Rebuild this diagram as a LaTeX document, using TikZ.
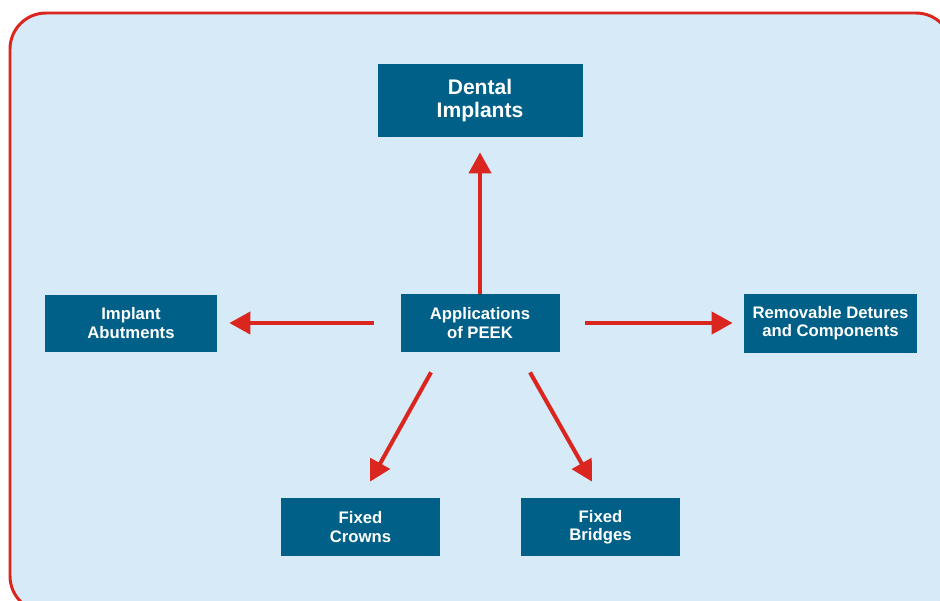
\documentclass[tikz,border=0pt]{standalone}
\usepackage{fontspec}
\setmainfont{Liberation Sans}
\usetikzlibrary{arrows.meta, positioning}
\definecolor{boxblue}{RGB}{0,96,136}
\definecolor{panelblue}{RGB}{214,234,248}
\definecolor{arrowred}{RGB}{218,38,30}
\tikzset{node distance=4cm, % Distance between node centres. Changed per node below.
  appbox/.style={ % Sets the properties for each dark box
    fill=boxblue,
    text=white,
    align=center,
    inner sep=2pt,
    minimum width=3.18cm,
    minimum height=1.16cm,
    font=\fontsize{9.5}{10.3}\selectfont\bfseries},
  spoke/.style={ % Sets the properties for each red arrow
    draw=arrowred,
    line width=2.3pt,
    -{Triangle[length=0.42cm, width=0.44cm]}}}

\begin{document}
\begin{tikzpicture}
  \useasboundingbox (0,0) rectangle (18.8,-12);
  \clip (0,0) rectangle (18.8,-12);
  \draw[arrowred, fill=panelblue, line width=1.7pt, rounded corners=0.72cm] (0.2,-0.26) rectangle (19.04,-12.24);
  \node[appbox] (peek) at (9.6,-6.46) {Applications\\of PEEK};
  \node[appbox, above of=peek, node distance=4.45cm, minimum width=4.1cm, minimum height=1.46cm, font=\fontsize{12}{13}\selectfont\bfseries] (dental) {Dental\\Implants};
  \node[appbox, left of=peek, node distance=6.98cm, minimum width=3.44cm, minimum height=1.14cm] (abut) {Implant\\Abutments};
  \node[appbox, right of=peek, node distance=7.01cm, minimum width=3.46cm, minimum height=1.18cm] (remov) {Removable Detures\\and Components};
  \node[appbox, below of=peek, node distance=4.08cm, xshift=-2.39cm] (crowns) {Fixed\\Crowns};
  \node[appbox, below of=peek, node distance=4.08cm, xshift=2.41cm] (bridges) {Fixed\\Bridges};
  \draw[spoke, shorten >=0.3cm] (peek) -- (dental);
  \draw[spoke, shorten <=0.52cm, shorten >=0.24cm] (peek) -- (abut);
  \draw[spoke, shorten <=0.5cm, shorten >=0.22cm] (peek) -- (remov);
  \draw[spoke] ([shift={(-0.98,-0.4)}]peek.south) -- ([shift={(0.19,0.32)}]crowns.north);
  \draw[spoke] ([shift={(1.0,-0.4)}]peek.south) -- ([shift={(-0.17,0.32)}]bridges.north);
\end{tikzpicture}
\end{document}
